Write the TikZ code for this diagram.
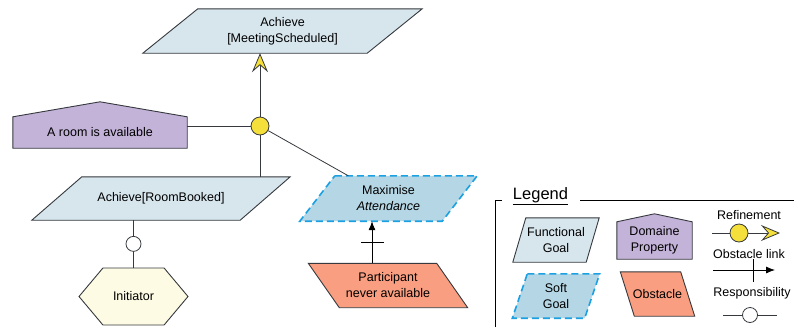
\documentclass[tikz,border=0pt]{standalone}
\usepackage{fontspec}
\setmainfont{Liberation Sans}
\usepackage{tikz}
\usetikzlibrary{arrows.meta,backgrounds,decorations.markings,shapes.symbols}
\definecolor{goalblue}{RGB}{215,229,237}
\definecolor{softblue}{RGB}{181,214,229}
\definecolor{softline}{RGB}{27,161,226}
\definecolor{propviolet}{RGB}{195,179,216}
\definecolor{obstred}{RGB}{249,158,128}
\definecolor{agentyellow}{RGB}{253,251,228}
\definecolor{refyellow}{RGB}{245,223,59}
\definecolor{linegray}{RGB}{54,57,61}
% outline of a parallelogram round a body node (#2 = slant)
\newcommand{\paraforme}[3]{%
 \filldraw[#3] ([xshift={(#2)/2}]#1.north west) -- ([xshift={(#2)/2}]#1.north east)
 -- ([xshift={-(#2)/2}]#1.south east) -- ([xshift={-(#2)/2}]#1.south west) -- cycle;}
% outline of a house round a body node (#2 = roof height)
\newcommand{\maisonforme}[3]{%
 \filldraw[#3] (#1.south west) -- (#1.north west) -- ([yshift=#2]#1.north)
 -- (#1.north east) -- (#1.south east) -- cycle;}
\tikzset{
Corps/.style={
 rectangle, inner sep=0pt, align=center
 },
FForme/.style={
 draw=linegray, fill=goalblue, line width=0.9pt
 },
SForme/.style={
 draw=softline, fill=softblue, line width=1.6pt, dash pattern=on 7pt off 4pt
 },
OForme/.style={
 draw=linegray, fill=obstred, line width=0.9pt
 },
DForme/.style={
 draw=linegray, fill=propviolet, line width=0.9pt
 },
Agent/.style={
 signal, signal to=east and west,
 draw=linegray, fill=agentyellow, line width=0.9pt,
 inner sep=0pt
 },
RefRond/.style={
 circle, draw=linegray, fill=refyellow, line width=0.8pt,
 minimum size=18pt, inner sep=0pt
 },
Lien/.style={
 draw=linegray, line width=0.8pt
 },
RefFleche/.style={
 Lien,
 -{Stealth[length=19pt,width=16pt,inset=7pt,fill=refyellow]}
 },
ObsFleche/.style={
 draw=black, line width=0.8pt,
 -{Latex[length=9pt,width=7pt]},
 postaction={decorate},
 decoration={markings,mark=at position #1 with {\draw[-] (0,-11.5pt) -- (0,11.5pt);}}
 },
ObsFleche/.default={0.5},
RespLien/.style={
 Lien,
 postaction={decorate},
 decoration={markings,mark=at position 0.5 with {\draw[fill=white] (0,0) circle (7.5pt);}}
 }
}
\begin{document}
\begin{tikzpicture}[x=1pt,y=-1pt,font=\fontsize{12.5}{16}\selectfont]
\useasboundingbox (0,0) rectangle (794,327);
% goal model
\node[Corps, minimum width=224pt, minimum height=44pt] (ms) at (282.5,31) {Achieve\\{[MeetingScheduled]}};
\node[RefRond] (ref) at (260,126) {};
\node[Corps, minimum width=174pt, minimum height=31pt] (dp) at (100,132.5) {A room is available};
\node[Corps, minimum width=208pt, minimum height=43pt] (rb) at (161,198.5) {Achieve[RoomBooked]};
\node[Corps, minimum width=142pt, minimum height=45pt] (sg) at (388.5,198.5) {Maximise\\\textit{Attendance}};
\node[Corps, minimum width=128pt, minimum height=44pt] (ob) at (388,285.5) {Participant\\never available};
\node[Agent, signal pointer angle=100, minimum width=109pt, minimum height=57pt] (ag) at (133.5,296.5) {Initiator};
\draw[RefFleche] (ref) -- (ref |- ms.south);
\draw[Lien] (ref) -- (ref -| dp.east);
\draw[Lien] (ref) -- (ref |- rb.north);
\draw[Lien] (ref) -- (sg);
\draw[ObsFleche] ([xshift=-16pt]ob.north) -- ([xshift=-16pt]ob.north |- sg.south);
\draw[RespLien] (ag.north) -- (ag.north |- rb.south);
% legend
\draw[line width=0.8pt] (495,327) -- (495,200) -- (502,200);
\draw[line width=0.8pt] (580,200) -- (794,200);
\node[font=\fontsize{16.5}{18}\selectfont] (leg) at (540.5,196) {\underline{Legend}};
\node[Corps, minimum width=73pt, minimum height=44pt] (lfg) at (556,240) {Functional\\Goal};
\node[Corps, minimum width=75pt, minimum height=37pt] (ldp) at (654.5,240.5) {Domaine\\Property};
\node[Corps, minimum width=72pt, minimum height=44pt] (lsg) at (556,296) {Soft\\Goal};
\node[Corps, minimum width=60pt, minimum height=44pt] (lob) at (657.5,294) {Obstacle};
\node (lref) at (749,215) {Refinement};
\coordinate (lrA) at (712,233);
\node[RefRond] (lrc) at (739,233) {};
\coordinate (lrB) at (780,233);
\draw[Lien] (lrA) -- (lrc);
\draw[RefFleche] (lrc) -- (lrB);
\node (lobs) at (749,254) {Obstacle link};
\coordinate (loA) at (713,270);
\coordinate (loB) at (775,270);
\draw[ObsFleche=0.65] (loA) -- (loB);
\node (lresp) at (752,293) {Responsibility};
\coordinate (lsA) at (723,315);
\coordinate (lsB) at (777,315);
\draw[RespLien] (lsA) -- (lsB);
% shapes behind the texts
\begin{scope}[on background layer]
\paraforme{ms}{55pt}{FForme}
\maisonforme{dp}{15pt}{DForme}
\paraforme{rb}{50pt}{FForme}
\paraforme{sg}{35pt}{SForme}
\paraforme{ob}{-31pt}{OForme}
\paraforme{lfg}{13pt}{FForme}
\maisonforme{ldp}{8pt}{DForme}
\paraforme{lsg}{15pt}{SForme}
\paraforme{lob}{-14pt}{OForme}
\end{scope}
\end{tikzpicture}
\end{document}
